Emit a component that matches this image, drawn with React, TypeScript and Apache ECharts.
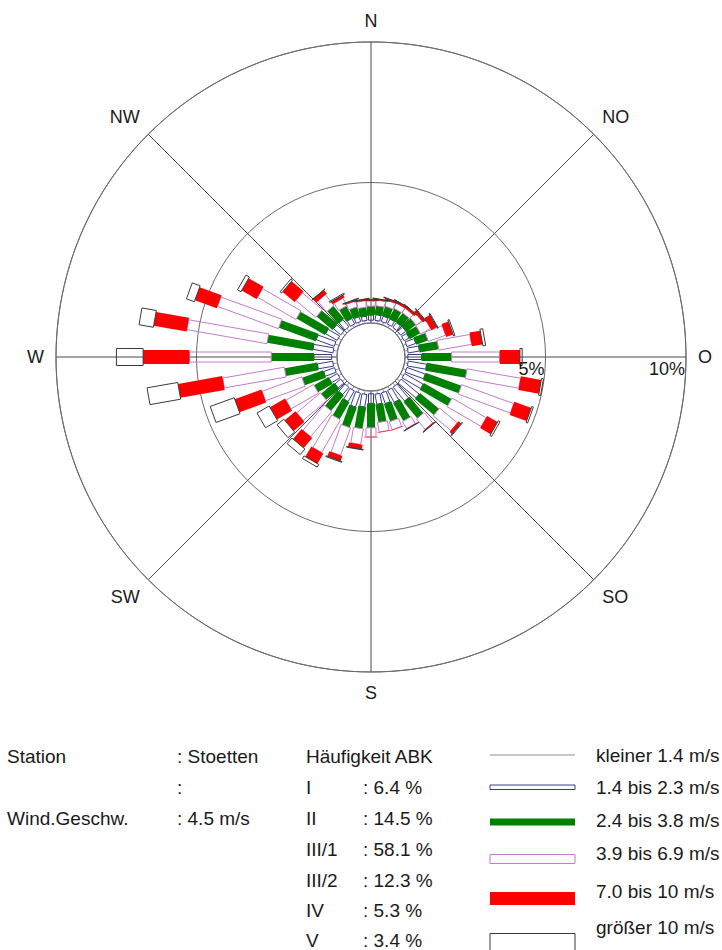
import React, { useEffect, useRef } from "react";
import * as echarts from "echarts";

// Wind directions (degrees, clockwise from north)
const directions = [
  0, 10, 20, 30, 40, 50, 60, 70, 80, 90, 100, 110, 120, 130, 140, 150, 160, 170,
  180, 190, 200, 210, 220, 230, 240, 250, 260, 270, 280, 290, 300, 310, 320, 330, 340, 350,
];

// Frequency (%) per direction and speed class
const below14 = [
  0.1, 0.1, 0.1, 0.1, 0.1, 0.1, 0.1, 0.12, 0.12, 0.1, 0.12, 0.12, 0.12, 0.12, 0.12, 0.12, 0.12, 0.12,
  0.1, 0.13, 0.13, 0.13, 0.12, 0.12, 0.12, 0.14, 0.16, 0.19, 0.15, 0.15, 0.13, 0.12, 0.12, 0.1, 0.1, 0.1,
];
const from14to23 = [
  0.18, 0.2, 0.2, 0.2, 0.21, 0.23, 0.2, 0.33, 0.4, 0.49, 0.66, 0.69, 0.76, 0.83, 0.64, 0.48, 0.4, 0.36,
  0.34, 0.45, 0.52, 0.44, 0.34, 0.27, 0.34, 0.41, 0.55, 0.63, 0.72, 0.68, 0.47, 0.34, 0.33, 0.22, 0.18, 0.15,
];
const from24to38 = [
  0.32, 0.32, 0.36, 0.4, 0.41, 0.42, 0.43, 0.45, 0.69, 1.07, 1.45, 1.35, 1.14, 0.88, 0.76, 0.74, 0.66, 0.65,
  0.87, 0.78, 0.76, 0.7, 0.71, 0.6, 0.59, 0.8, 1.18, 1.52, 1.65, 1.4, 1.17, 0.74, 0.59, 0.48, 0.36, 0.32,
];
const from39to69 = [
  0.18, 0.2, 0.22, 0.2, 0.18, 0.25, 0.4, 0.65, 1.18, 1.71, 1.93, 1.97, 1.4, 0.82, 0.48, 0.29, 0.3, 0.34,
  0.32, 0.56, 1.04, 1.34, 1.17, 1.1, 1.13, 1.5, 2.23, 2.91, 2.89, 2.31, 1.58, 0.93, 0.49, 0.3, 0.21, 0.23,
];
const from70to10 = [
  0.04, 0.04, 0.06, 0.07, 0.08, 0.1, 0.22, 0.26, 0.39, 0.72, 0.74, 0.64, 0.43, 0.11, 0.03, 0.02, 0.02, 0.02,
  0.02, 0.16, 0.19, 0.42, 0.47, 0.5, 0.62, 1.01, 1.6, 1.65, 1.19, 0.83, 0.61, 0.56, 0.16, 0.1, 0.05, 0.05,
];
const above10 = [
  0.01, 0.01, 0.01, 0.01, 0.01, 0.02, 0.03, 0.05, 0.1, 0.08, 0.07, 0.06, 0.07, 0.03, 0.01, 0.01, 0, 0,
  0, 0.02, 0.03, 0.11, 0.26, 0.31, 0.5, 0.91, 1.11, 0.95, 0.52, 0.3, 0.14, 0.07, 0.01, 0.04, 0.01, 0.01,
];

const compassLabels = ["N", "NO", "O", "SO", "S", "SW", "W", "NW"];
const radiusTicks = [5, 10];

const speedClassNames = [
  "kleiner 1.4 m/s",
  "1.4 bis 2.3 m/s",
  "2.4 bis 3.8 m/s",
  "3.9 bis 6.9 m/s",
  "7.0 bis 10 m/s",
  "größer 10 m/s",
];
const abkClasses = ["I", "II", "III/1", "III/2", "IV", "V"];
const abkValues = [": 6.4 %", ": 14.5 %", ": 58.1 %", ": 12.3 %", ": 5.3 %", ": 3.4 %"];

const FONT = "Liberation Sans, Arial, sans-serif";
const TEXT = "#1a1a1a";

const classes = [below14, from14to23, from24to38, from39to69, from70to10, above10];
const classStyles = [
  { kind: "line", hw: 0, stroke: "#8c8cb4", fill: "none" },
  { kind: "rect", hw: 2.5, stroke: "#3a3a8c", fill: "none" },
  { kind: "rect", hw: 4, stroke: "none", fill: "#008000" },
  { kind: "rect", hw: 5, stroke: "#c27ccc", fill: "none" },
  { kind: "rect", hw: 7, stroke: "none", fill: "#ff0000" },
  { kind: "rect", hw: 8.5, stroke: "#3a3a3a", fill: "none" },
];

// legend swatch geometry
const swatches = [
  { y: 755, h: 0 },
  { y: 785, h: 4.5 },
  { y: 818.5, h: 7 },
  { y: 854.5, h: 9 },
  { y: 892, h: 13 },
  { y: 933.5, h: 17 },
];
const legendTextY = [755, 787, 820, 853, 891, 927];
const rowY = [756, 787.5, 818, 849, 880, 910, 940];

export default function App() {
  const ref = useRef<HTMLDivElement>(null);
  useEffect(() => {
    if (!ref.current) return;
    const chart = echarts.init(ref.current, null, { renderer: "svg" });

    const series: any[] = classes.map((arr, ci) => {
      const data = directions.map((d, i) => {
        let start = 0;
        for (let k = 0; k < ci; k++) start += classes[k][i];
        return [d, start, start + arr[i]];
      });
      const st = classStyles[ci];
      return {
        type: "custom",
        name: speedClassNames[ci],
        coordinateSystem: "polar",
        encode: { angle: 0, radius: [1, 2] },
        data,
        silent: true,
        z: 3 + ci,
        renderItem: (params: any, api: any) => {
          const ang = api.value(0);
          const r0 = api.value(1);
          const r1 = api.value(2);
          if (!(r1 - r0 > 0)) return null;
          const p0 = api.coord([r0, ang]);
          const p1 = api.coord([r1, ang]);
          if (st.kind === "line") {
            return {
              type: "line",
              shape: { x1: p0[0], y1: p0[1], x2: p1[0], y2: p1[1] },
              style: { stroke: st.stroke, lineWidth: 1 },
            };
          }
          const t = (ang * Math.PI) / 180;
          const nx = Math.cos(t) * st.hw;
          const ny = Math.sin(t) * st.hw;
          return {
            type: "polygon",
            shape: {
              points: [
                [p0[0] + nx, p0[1] + ny],
                [p1[0] + nx, p1[1] + ny],
                [p1[0] - nx, p1[1] - ny],
                [p0[0] - nx, p0[1] - ny],
              ],
            },
            style: { fill: st.fill, stroke: st.stroke, lineWidth: 1 },
          };
        },
      };
    });

    series.push({
      type: "custom",
      coordinateSystem: "polar",
      encode: { radius: 0, angle: 1 },
      data: radiusTicks.map((v) => [v, 90]),
      silent: true,
      z: 20,
      renderItem: (params: any, api: any) => {
        const v = api.value(0);
        const pt = api.coord([v, api.value(1)]);
        return {
          type: "text",
          x: pt[0] - 1,
          y: pt[1] + 3,
          style: {
            text: v + "%",
            fill: TEXT,
            fontSize: 18,
            fontFamily: FONT,
            align: "right",
            verticalAlign: "top",
          },
        };
      },
    });

    const graphics: any[] = [];
    const addText = (text: string, x: number, y: number) =>
      graphics.push({
        type: "text",
        x,
        y,
        silent: true,
        style: { text, fill: TEXT, fontSize: 19, fontFamily: FONT, align: "left", verticalAlign: "middle" },
      });
    addText("Station", 7, rowY[0]);
    addText("Wind.Geschw.", 7, rowY[2]);
    addText(": Stoetten", 177, rowY[0]);
    addText(":", 177, rowY[1]);
    addText(": 4.5 m/s", 177, rowY[2]);
    addText("Häufigkeit ABK", 306, rowY[0]);
    abkClasses.forEach((c, i) => {
      addText(c, 306, rowY[i + 1]);
      addText(abkValues[i], 363, rowY[i + 1]);
    });
    speedClassNames.forEach((n, i) => {
      addText(n, 596, legendTextY[i]);
      const st = classStyles[i];
      const sw = swatches[i];
      if (st.kind === "line") {
        graphics.push({
          type: "line",
          silent: true,
          shape: { x1: 490, y1: sw.y, x2: 575, y2: sw.y },
          style: { stroke: st.stroke, lineWidth: 1 },
        });
      } else {
        graphics.push({
          type: "rect",
          silent: true,
          shape: { x: 490, y: sw.y, width: 85, height: sw.h },
          style: {
            fill: st.fill === "none" ? "#ffffff" : st.fill,
            stroke: st.stroke,
            lineWidth: 1,
          },
        });
      }
    });

    chart.setOption({
      animation: false,
      backgroundColor: "#ffffff",
      polar: { center: [371, 357], radius: [34, 315] },
      angleAxis: {
        type: "value",
        min: 0,
        max: 360,
        interval: 45,
        startAngle: 90,
        clockwise: true,
        axisLine: { show: true, lineStyle: { color: "#6a6a6a", width: 1 } },
        axisTick: { show: false },
        splitLine: { show: true, lineStyle: { color: "#4a4a4a", width: 1 } },
        axisLabel: {
          margin: 12,
          color: TEXT,
          fontSize: 18,
          fontFamily: FONT,
          formatter: (v: number) => (v >= 360 ? "" : compassLabels[Math.round(v / 45)] || ""),
        },
      },
      radiusAxis: {
        type: "value",
        min: 0,
        max: 10,
        interval: 5,
        axisLine: { show: false },
        axisTick: { show: false },
        axisLabel: { show: false },
        splitLine: { show: true, lineStyle: { color: "#6a6a6a", width: 1 } },
      },
      series,
      graphic: { elements: graphics },
    });

    return () => chart.dispose();
  }, []);

  return (
    <div
      ref={ref}
      style={{ position: "absolute", left: 0, top: 0, width: 722, height: 950, background: "#fff" }}
    />
  );
}
